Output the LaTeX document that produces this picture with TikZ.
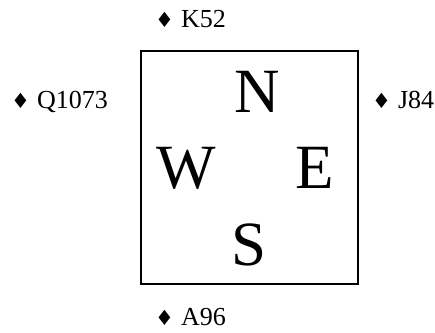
\documentclass[tikz,border=0pt]{standalone}
\usepackage{fontspec}
\setmainfont{Liberation Serif}
\newfontfamily\diafont{DejaVu Sans}
\newcommand{\dia}{{\diafont\fontsize{21}{21}\selectfont ♦}}
\tikzset{
  hand/.style={anchor=base west, inner sep=0pt, font=\fontsize{26}{26}\selectfont},
  big/.style={anchor=base west, inner sep=0pt, font=\fontsize{63}{63}\selectfont},
  box/.style={draw, line width=1.8pt}
}
\begin{document}
\begin{tikzpicture}[x=1pt,y=-1pt]
\useasboundingbox (0,0) rectangle (435,332);
\node[box, minimum width=217pt, minimum height=233pt, anchor=north west, inner sep=0pt] (sq) at (140,50) {};
\node[hand] (north) at (155,27) {\dia\hspace{7pt}K52};
\node[hand] (west) at (11,108) {\dia\hspace{7pt}Q1073};
\node[hand] (east) at (372,108) {\dia\hspace{7pt}J84};
\node[hand] (south) at (155,325) {\dia\hspace{7pt}A96};
\node[big] (n) at (234,112) {N};
\node[big] (w) at (156,188) {W};
\node[big] (e) at (295,188) {E};
\node[big] (s) at (231,265) {S};
\end{tikzpicture}
\end{document}
